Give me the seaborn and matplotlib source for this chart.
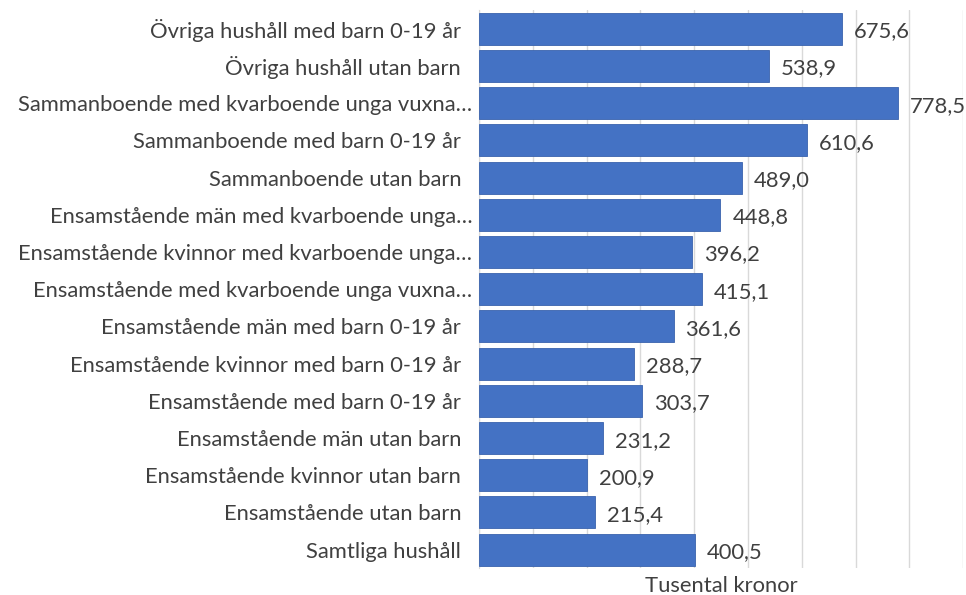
import numpy as np
import pandas as pd
import seaborn as sns
import matplotlib.pyplot as plt

categories = ["Övriga hushåll med barn 0-19 år",
              "Övriga hushåll utan barn",
              "Sammanboende med kvarboende unga vuxna…",
              "Sammanboende med barn 0-19 år",
              "Sammanboende utan barn",
              "Ensamstående män med kvarboende unga…",
              "Ensamstående kvinnor med kvarboende unga…",
              "Ensamstående med kvarboende unga vuxna…",
              "Ensamstående män med barn 0-19 år",
              "Ensamstående kvinnor med barn 0-19 år",
              "Ensamstående med barn 0-19 år",
              "Ensamstående män utan barn",
              "Ensamstående kvinnor utan barn",
              "Ensamstående utan barn",
              "Samtliga hushåll"]
values = [675.6, 538.9, 778.5, 610.6, 489.0, 448.8, 396.2, 415.1,
          361.6, 288.7, 303.7, 231.2, 200.9, 215.4, 400.5]

df = pd.DataFrame({"kategori": categories, "varde": values})

sns.set_style("white")
plt.rcParams['font.family'] = ['Lato', 'DejaVu Sans']
text_col = "#404040"
fs = 15.8

fig = plt.figure(figsize=(9.66, 5.95), dpi=100)
ax = fig.add_axes([0.496, 0.045, 0.501, 0.938])

sns.barplot(data=df, x="varde", y="kategori", orient="h", color="#4472C4",
            saturation=1, width=0.86, edgecolor="#3A63AD", linewidth=0.6, ax=ax, zorder=3)

ax.set_xlim(0, 900)
ax.set_xticks(np.arange(0, 901, 100))
ax.set_xticklabels([])
ax.tick_params(axis="x", length=0)
# Excel lämnar ett mellanslag efter de etiketter som inte är avkortade
ax.set_yticks(range(len(categories)))
ax.set_yticklabels([c if c.endswith("…") else c + "\u2002" for c in categories])
ax.tick_params(axis="y", length=0, pad=5, labelsize=fs, labelcolor=text_col)
ax.grid(axis="x", color="#D9D9D9", linewidth=1, zorder=0)
ax.set_ylabel("")
ax.set_xlabel("Tusental kronor", fontsize=fs, color=text_col, labelpad=2)

for s in ["top", "right", "bottom"]:
    ax.spines[s].set_visible(False)
ax.spines["left"].set_color("#D9D9D9")

for i, v in enumerate(values):
    ax.text(v + 22, i + 0.07, f"{v:.1f}".replace(".", ","), va="center", ha="left",
            fontsize=fs, color=text_col)

plt.savefig("out.png", dpi=100)
